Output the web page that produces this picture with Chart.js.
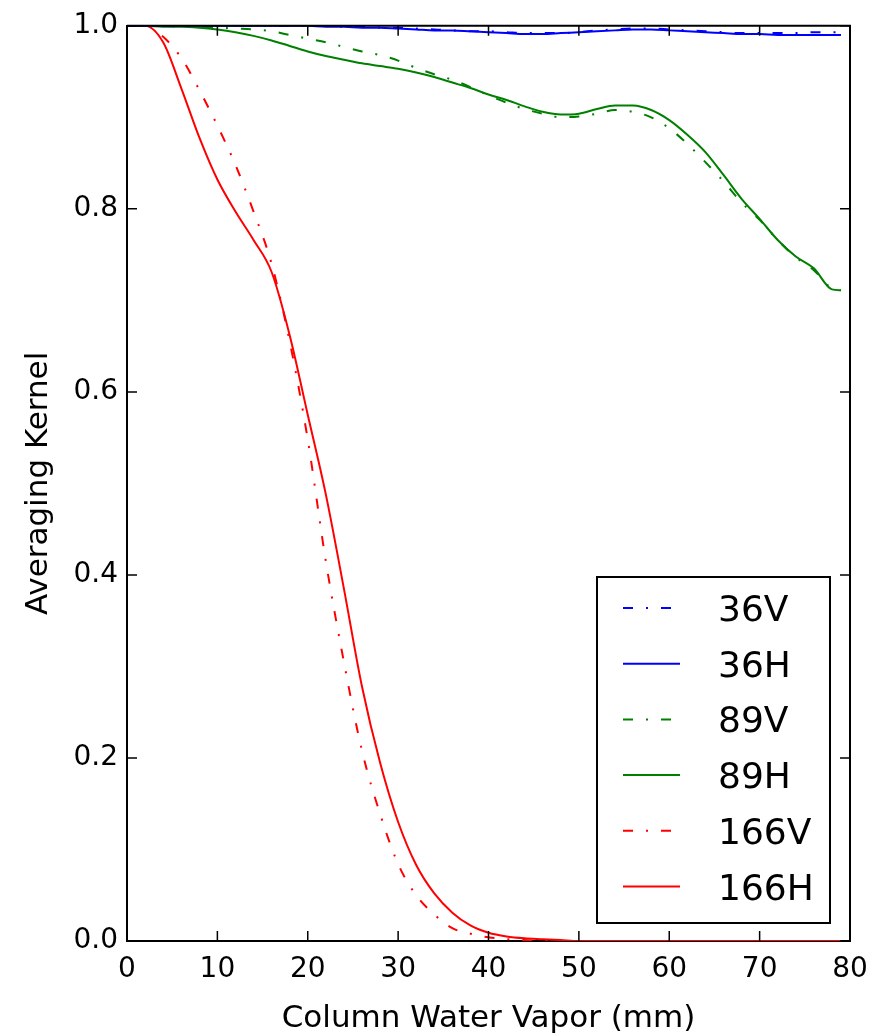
<!DOCTYPE html>
<html>
<head>
<meta charset="utf-8">
<script src="https://cdn.jsdelivr.net/npm/chart.js@4.4.1/dist/chart.umd.min.js"></script>
<style>
  body { margin: 0; background: #fff; }
</style>
</head>
<body>
<canvas id="grafica" width="877" height="1034"></canvas>
<script>
// column water vapor (mm)
const cwv = [0, 2, 4, 6, 8, 10, 12, 14, 16, 18, 20, 22, 24, 26, 28, 30, 32, 34, 36, 38,
             40, 42, 44, 46, 48, 50, 52, 54, 56, 58, 60, 62, 64, 66, 68, 70, 72, 74, 76, 78, 79];

const kernel36V = [1.0, 1.0, 1.0, 1.0, 1.0, 1.0, 1.0, 1.0, 1.0, 1.0, 1.0, 1.0, 0.999, 0.999, 0.998, 0.998, 0.997, 0.996, 0.995, 0.994,
                   0.994, 0.993, 0.992, 0.992, 0.992, 0.993, 0.995, 0.996, 0.997, 0.997, 0.996, 0.995, 0.994, 0.993, 0.992, 0.992, 0.992, 0.992, 0.993, 0.993, 0.993];

const kernel36H = [1.0, 1.0, 1.0, 1.0, 1.0, 1.0, 1.0, 1.0, 1.0, 1.0, 1.0, 0.999, 0.999, 0.998, 0.998, 0.997, 0.996, 0.995, 0.995, 0.994,
                   0.993, 0.992, 0.991, 0.991, 0.992, 0.993, 0.994, 0.995, 0.996, 0.996, 0.995, 0.994, 0.993, 0.992, 0.991, 0.991, 0.990, 0.990, 0.990, 0.990, 0.990];

const kernel89V = [1.0, 1.0, 1.0, 0.999, 0.999, 0.998, 0.997, 0.996, 0.994, 0.990, 0.986, 0.982, 0.977, 0.972, 0.968, 0.962, 0.954, 0.947, 0.941, 0.933,
                   0.924, 0.916, 0.909, 0.904, 0.900, 0.901, 0.904, 0.908, 0.906, 0.900, 0.888, 0.871, 0.851, 0.830, 0.807, 0.788, 0.766, 0.747, 0.733, 0.713, 0.711];

const kernel89H = [1.0, 1.0, 0.999, 0.999, 0.998, 0.996, 0.993, 0.989, 0.984, 0.978, 0.972, 0.967, 0.963, 0.959, 0.956, 0.953, 0.949, 0.944, 0.938, 0.932,
                   0.925, 0.919, 0.912, 0.906, 0.903, 0.904, 0.909, 0.913, 0.913, 0.908, 0.897, 0.881, 0.862, 0.837, 0.811, 0.789, 0.766, 0.748, 0.735, 0.712, 0.711];

const kernel166V = [1.0, 1.0, 0.988, 0.965, 0.930, 0.891, 0.848, 0.797, 0.740, 0.655, 0.548, 0.415, 0.305, 0.208, 0.139, 0.084, 0.050, 0.029, 0.014, 0.008,
                    0.004, 0.002, 0.001, 0, 0, 0, 0, 0, 0, 0, 0, 0, 0, 0, 0, 0, 0, 0, 0, 0, 0];

const kernel166H = [1.0, 1.0, 0.982, 0.932, 0.878, 0.832, 0.797, 0.766, 0.731, 0.662, 0.575, 0.488, 0.385, 0.278, 0.195, 0.130, 0.083, 0.052, 0.031, 0.017,
                    0.009, 0.005, 0.003, 0.002, 0.001, 0, 0, 0, 0, 0, 0, 0, 0, 0, 0, 0, 0, 0, 0, 0, 0];

const seriesNames = ['36V', '36H', '89V', '89H', '166V', '166H'];
const seriesValues = [kernel36V, kernel36H, kernel89V, kernel89H, kernel166V, kernel166H];
const seriesColors = ['#0000ff', '#0000ff', '#008000', '#008000', '#ff0000', '#ff0000'];
const dashDot = [10, 13, 2, 13];

const xTicks = [0, 10, 20, 30, 40, 50, 60, 70, 80];
const yTicks = [0.0, 0.2, 0.4, 0.6, 0.8, 1.0];

function puntos(values) {
    return cwv.map((x, i) => ({ x: x, y: values[i] }));
}

function esV(name) {
    return name.endsWith('V');
}

// top/right spines, inward ticks on all sides and the boxed legend
const marco = {
    id: 'marco',
    afterDraw(chart) {
        const ctx = chart.ctx;
        const a = chart.chartArea;
        const xs = chart.scales.x;
        const ys = chart.scales.y;

        ctx.save();
        ctx.strokeStyle = '#000';
        ctx.lineWidth = 2;
        ctx.beginPath();
        ctx.moveTo(a.left, a.top);
        ctx.lineTo(a.right, a.top);
        ctx.lineTo(a.right, a.bottom);
        ctx.stroke();

        ctx.lineWidth = 1.5;
        xTicks.forEach(v => {
            const px = xs.getPixelForValue(v);
            ctx.beginPath();
            ctx.moveTo(px, a.bottom);
            ctx.lineTo(px, a.bottom - 10);
            ctx.moveTo(px, a.top);
            ctx.lineTo(px, a.top + 10);
            ctx.stroke();
        });
        yTicks.forEach(v => {
            const py = ys.getPixelForValue(v);
            ctx.beginPath();
            ctx.moveTo(a.left, py);
            ctx.lineTo(a.left + 10, py);
            ctx.moveTo(a.right, py);
            ctx.lineTo(a.right - 10, py);
            ctx.stroke();
        });

        // legend
        const bw = 233, bh = 346;
        const bx = a.right - 20 - bw;
        const by = a.bottom - 18 - bh;
        ctx.fillStyle = '#fff';
        ctx.fillRect(bx, by, bw, bh);
        ctx.lineWidth = 2;
        ctx.strokeStyle = '#000';
        ctx.strokeRect(bx, by, bw, bh);

        ctx.font = '36px "DejaVu Sans"';
        ctx.textBaseline = 'alphabetic';
        ctx.textAlign = 'left';
        seriesNames.forEach((name, i) => {
            const cy = by + 31 + i * 55.7;
            ctx.strokeStyle = seriesColors[i];
            ctx.lineWidth = 2;
            ctx.setLineDash(esV(name) ? dashDot : []);
            ctx.beginPath();
            ctx.moveTo(bx + 26, cy);
            ctx.lineTo(bx + 83, cy);
            ctx.stroke();
            ctx.setLineDash([]);
            ctx.fillStyle = '#000';
            ctx.fillText(name, bx + 121, cy + 13);
        });
        ctx.restore();
    }
};

Chart.defaults.font.family = '"DejaVu Sans"';
Chart.defaults.color = '#000';

const ctx = document.getElementById('grafica').getContext('2d');
new Chart(ctx, {
    type: 'line',
    data: {
        datasets: seriesNames.map((name, i) => ({
            label: name,
            data: puntos(seriesValues[i]),
            borderColor: seriesColors[i],
            borderWidth: 2,
            borderDash: esV(name) ? dashDot : [],
            pointRadius: 0,
            fill: false,
            cubicInterpolationMode: 'monotone'
        }))
    },
    options: {
        responsive: false,
        animation: false,
        layout: { padding: { top: 24, right: 27, left: 0, bottom: 0 } },
        plugins: {
            legend: { display: false },
            tooltip: { enabled: false }
        },
        scales: {
            x: {
                type: 'linear',
                min: 0,
                max: 80,
                grid: { display: false, drawTicks: false },
                border: { display: true, color: '#000', width: 2 },
                ticks: {
                    stepSize: 10,
                    padding: 5,
                    font: { size: 28, lineHeight: 1.7 },
                    maxRotation: 0
                },
                title: {
                    display: true,
                    text: 'Column Water Vapor (mm)',
                    font: { size: 31, lineHeight: 1 },
                    padding: { top: 0, bottom: 0 }
                },
                afterFit(scale) { scale.height = 93; }
            },
            y: {
                type: 'linear',
                min: 0,
                max: 1,
                grid: { display: false, drawTicks: false },
                border: { display: true, color: '#000', width: 2 },
                ticks: {
                    stepSize: 0.2,
                    padding: 9,
                    font: { size: 28 },
                    callback: v => v.toFixed(1)
                },
                title: {
                    display: true,
                    text: 'Averaging Kernel',
                    font: { size: 31, lineHeight: 1.2 },
                    padding: { top: 20, bottom: 0 }
                },
                afterFit(scale) { scale.width = 127; }
            }
        }
    },
    plugins: [marco]
});
</script>
</body>
</html>
